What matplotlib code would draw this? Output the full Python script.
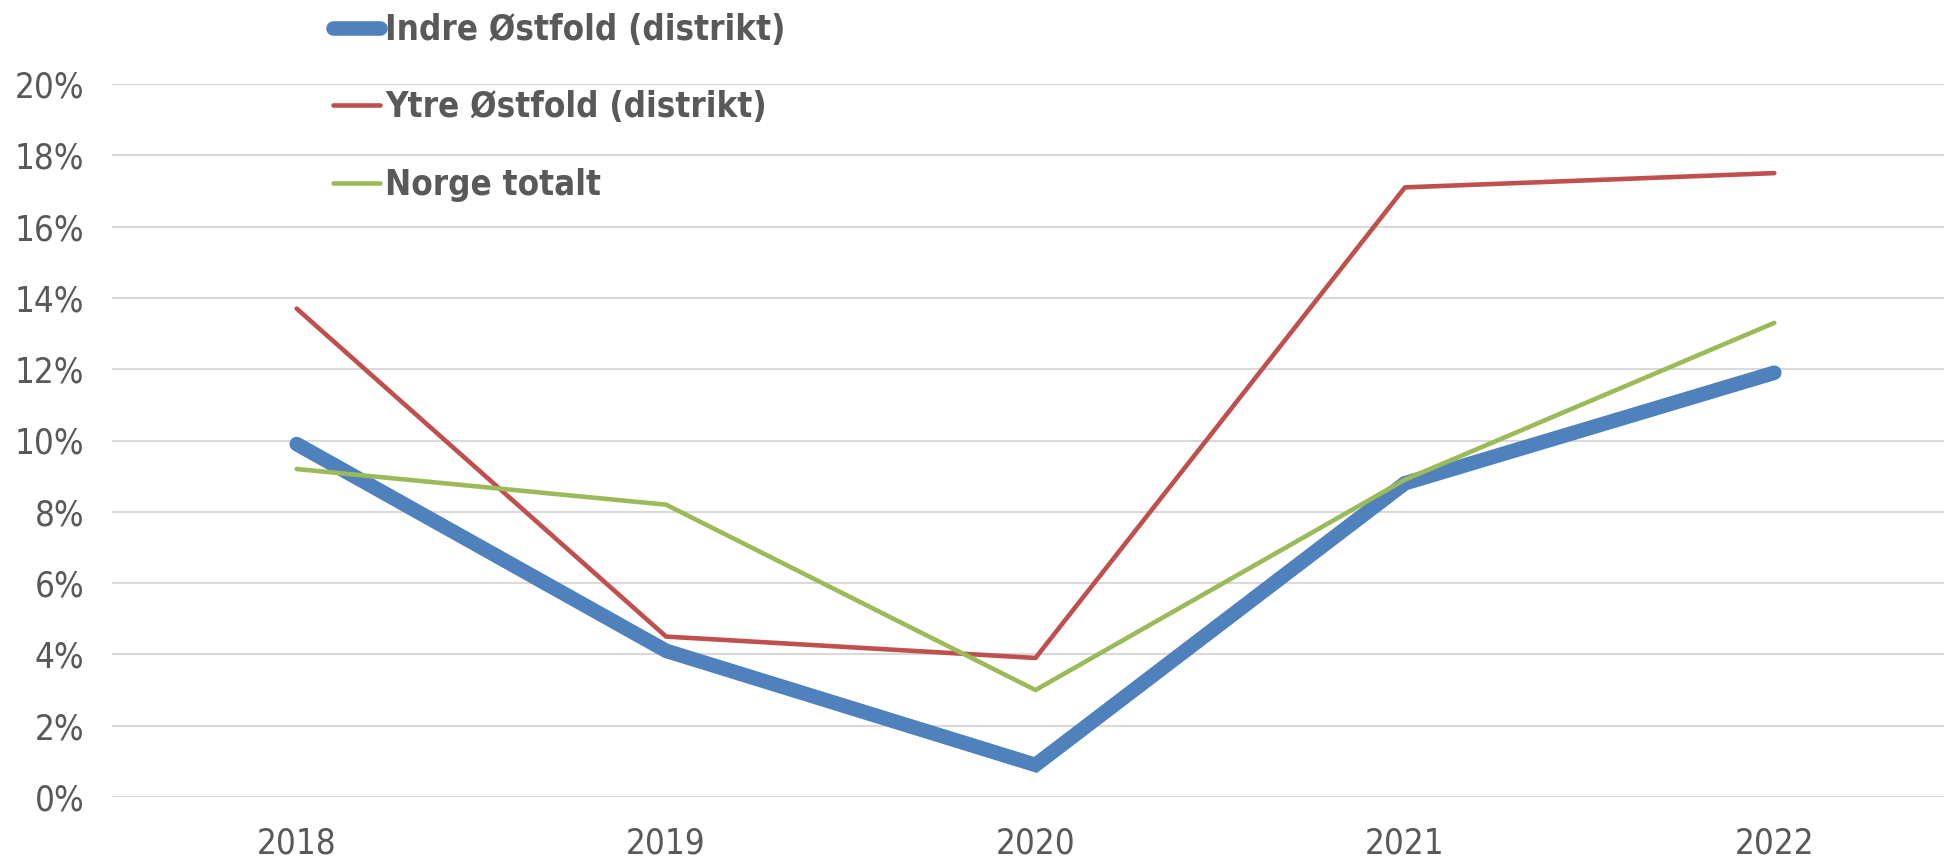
import matplotlib
matplotlib.use("Agg")
import matplotlib.pyplot as plt
from matplotlib.ticker import PercentFormatter

# ── Data ──────────────────────────────────────────────────────────────────────
years = ["2018", "2019", "2020", "2021", "2022"]
indre = [9.9, 4.1, 0.9, 8.8, 11.9]
ytre = [13.7, 4.5, 3.9, 17.1, 17.5]
norge = [9.2, 8.2, 3.0, 8.9, 13.3]

series_names = ["Indre Østfold (distrikt)", "Ytre Østfold (distrikt)", "Norge totalt"]

TXT = "#595959"
plt.rcParams["font.family"] = ["DejaVu Sans"]
plt.rcParams["font.stretch"] = "condensed"

fig = plt.figure(figsize=(19.44, 8.61), dpi=100)
ax = fig.add_axes([112 / 1944, 1 - 797 / 861, (1959 - 112) / 1944, (797 - 84) / 861])

x = range(len(years))
ax.plot(x, indre, color="#4F81BD", lw=10.5, solid_capstyle="round", solid_joinstyle="miter",
        label=series_names[0], zorder=3)
ax.plot(x, ytre, color="#C0504D", lw=3.3, solid_capstyle="round", label=series_names[1], zorder=4)
ax.plot(x, norge, color="#9BBB59", lw=3.3, solid_capstyle="round", label=series_names[2], zorder=5)

ax.set_xlim(-0.5, 4.5)
ax.set_ylim(0, 20)
ax.set_yticks(range(0, 21, 2))
ax.yaxis.set_major_formatter(PercentFormatter(decimals=0))
ax.set_xticks(list(x))
ax.set_xticklabels(years)
ax.tick_params(axis="both", length=0, labelsize=25, labelcolor=TXT)
ax.tick_params(axis="x", pad=21)
ax.tick_params(axis="y", pad=20)
ax.grid(axis="y", color="#D9D9D9", lw=1.5)
ax.set_axisbelow(True)
for s in ax.spines.values():
    s.set_visible(False)

leg = fig.legend(loc="upper left", bbox_to_anchor=(333 / 1944, 1 - 13 / 861), frameon=False,
                 labelcolor=TXT, handlelength=1.35, handletextpad=0.15,
                 labelspacing=1.25, borderpad=0, borderaxespad=0,
                 prop={"weight": "bold", "size": 25, "stretch": "condensed"})
for h in leg.get_lines():
    h.set_solid_capstyle("round")

fig.savefig("out.png", dpi=100)
